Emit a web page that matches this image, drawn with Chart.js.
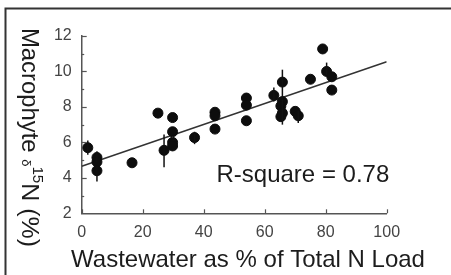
<!DOCTYPE html>
<html>
<head>
<meta charset="utf-8">
<script src="https://cdn.jsdelivr.net/npm/chart.js@4"></script>
<style>
  html, body { margin: 0; padding: 0; background: #fff; }
  #wrap { width: 451px; height: 275px; position: relative; }
</style>
</head>
<body>
<div id="wrap"><canvas id="c"></canvas></div>
<script>
// % of total N load coming from wastewater
const wastewater = [2, 5, 5, 5, 16.5, 25, 27, 29.8, 29.8, 29.8, 29.8, 37, 43.7, 43.7, 43.7,
  54, 54, 54, 63, 65.8, 65.8, 65.3, 65.8, 65.3, 70, 71, 75, 79, 80.3, 82, 82];
// macrophyte d15N values
const d15N = [5.7, 5.15, 4.9, 4.4, 4.85, 7.65, 5.55, 7.4, 6.6, 6.0, 5.8, 6.27, 7.7, 7.5, 6.75,
  8.5, 8.1, 7.22, 8.65, 9.4, 8.3, 8.05, 7.65, 7.45, 7.75, 7.5, 9.56, 11.27, 10.0, 9.7, 8.95];
// error bars (low, high), null = none visible
const errLow  = [5.3, 4.9, null, 3.8, null, null, 4.6, null, null, null, null, 5.9, null, null, null,
  null, null, null, 8.3, 7.0, null, null, null, null, null, 7.1, null, null, 9.8, null, null];
const errHigh = [6.1, 5.5, null, 4.6, null, null, 6.45, null, null, null, null, 6.6, null, null, null,
  null, null, null, 9.1, 10.1, null, null, null, null, null, 7.8, null, null, 10.5, null, null];
// regression line ends
const fitX = [0, 100];
const fitY = [4.65, 10.55];

const xTicks = [0, 20, 40, 60, 80, 100];
const yTicks = [2, 4, 6, 8, 10, 12];

const FONT = "'Liberation Sans', Arial, sans-serif";

const points = wastewater.map((x, i) => ({ x: x, y: d15N[i] }));
const fitLine = fitX.map((x, i) => ({ x: x, y: fitY[i] }));

// frame, inward ticks, error bars and all the titles
const extras = {
  id: 'extras',
  beforeDraw(chart) {
    const ctx = chart.ctx;
    ctx.save();
    ctx.fillStyle = '#fff';
    ctx.fillRect(0, 0, chart.width, chart.height);
    ctx.strokeStyle = '#333';
    ctx.lineWidth = 2;
    ctx.beginPath();
    ctx.moveTo(5.5, chart.height);
    ctx.lineTo(5.5, 8.5);
    ctx.lineTo(chart.width, 8.5);
    ctx.stroke();
    ctx.restore();
  },
  afterDatasetsDraw(chart) {
    const ctx = chart.ctx;
    const xs = chart.scales.x, ys = chart.scales.y;
    ctx.save();
    // error bars
    ctx.strokeStyle = '#111';
    ctx.lineWidth = 1.5;
    wastewater.forEach((x, i) => {
      if (errLow[i] == null) return;
      const px = xs.getPixelForValue(x);
      ctx.beginPath();
      ctx.moveTo(px, ys.getPixelForValue(errLow[i]));
      ctx.lineTo(px, ys.getPixelForValue(errHigh[i]));
      ctx.stroke();
    });
    // inward ticks
    ctx.strokeStyle = '#555';
    ctx.lineWidth = 1.2;
    const left = xs.getPixelForValue(0), bottom = ys.getPixelForValue(2);
    xTicks.forEach(v => {
      const px = Math.round(xs.getPixelForValue(v)) + 0.5;
      ctx.beginPath();
      ctx.moveTo(px, bottom);
      ctx.lineTo(px, bottom - 4);
      ctx.stroke();
    });
    for (let v = 3; v <= 12; v++) {
      const py = Math.round(ys.getPixelForValue(v)) + 0.5;
      ctx.beginPath();
      ctx.moveTo(left, py);
      ctx.lineTo(left + (v % 2 === 0 ? 5 : 2.5), py);
      ctx.stroke();
    }
    ctx.restore();

    ctx.save();
    ctx.fillStyle = '#1c1c1c';
    ctx.font = '24px ' + FONT;
    ctx.textBaseline = 'alphabetic';
    ctx.textAlign = 'left';
    ctx.fillText('R-square = 0.78', 216.5, 181.5);

    ctx.textAlign = 'center';
    ctx.fillText('Wastewater as % of Total N Load', 248, 267);

    // y title, reading downwards
    const parts = [
      { t: 'Macrophyte ', size: 22, dy: 0 },
      { t: '\u03b4', size: 12, dy: 0 },
      { t: '15', size: 14, dy: -10 },
      { t: 'N (%)', size: 23, dy: 0 }
    ];
    let total = 0;
    parts.forEach(p => { ctx.font = p.size + 'px ' + FONT; p.w = ctx.measureText(p.t).width; total += p.w; });
    ctx.translate(22, 28);
    ctx.rotate(Math.PI / 2);
    ctx.scale(219 / total, 1.08);
    ctx.textAlign = 'left';
    let cx = 0;
    parts.forEach(p => {
      ctx.font = p.size + 'px ' + FONT;
      ctx.fillText(p.t, cx, p.dy);
      cx += p.w;
    });
    ctx.restore();
  }
};

new Chart(document.getElementById('c'), {
  type: 'scatter',
  data: {
    datasets: [{
      data: points,
      backgroundColor: '#0d0d0d',
      borderColor: '#0d0d0d',
      pointRadius: 5,
      pointHoverRadius: 5
    }, {
      type: 'line',
      data: fitLine,
      borderColor: '#333',
      borderWidth: 1.5,
      pointRadius: 0,
      fill: false
    }]
  },
  options: {
    responsive: true,
    maintainAspectRatio: false,
    animation: false,
    events: [],
    layout: { padding: { left: 0, top: 36, right: 64.3, bottom: 0 } },
    plugins: { legend: { display: false }, tooltip: { enabled: false } },
    scales: {
      x: {
        type: 'linear', min: 0, max: 100,
        afterFit: s => { s.height = 61.7; },
        afterBuildTicks: s => { s.ticks = xTicks.map(v => ({ value: v })); },
        grid: { display: false, drawTicks: false },
        border: { display: true, color: '#555', width: 1.5 },
        ticks: { color: '#444', font: { family: FONT, size: 16 }, padding: 10, maxRotation: 0 }
      },
      y: {
        type: 'linear', min: 2, max: 12,
        afterFit: s => { s.width = 81.7; },
        afterBuildTicks: s => { s.ticks = yTicks.map(v => ({ value: v })); },
        grid: { display: false, drawTicks: false },
        border: { display: true, color: '#555', width: 1.5 },
        ticks: { color: '#444', font: { family: FONT, size: 16 }, padding: 10 }
      }
    }
  },
  plugins: [extras]
});
</script>
</body>
</html>
